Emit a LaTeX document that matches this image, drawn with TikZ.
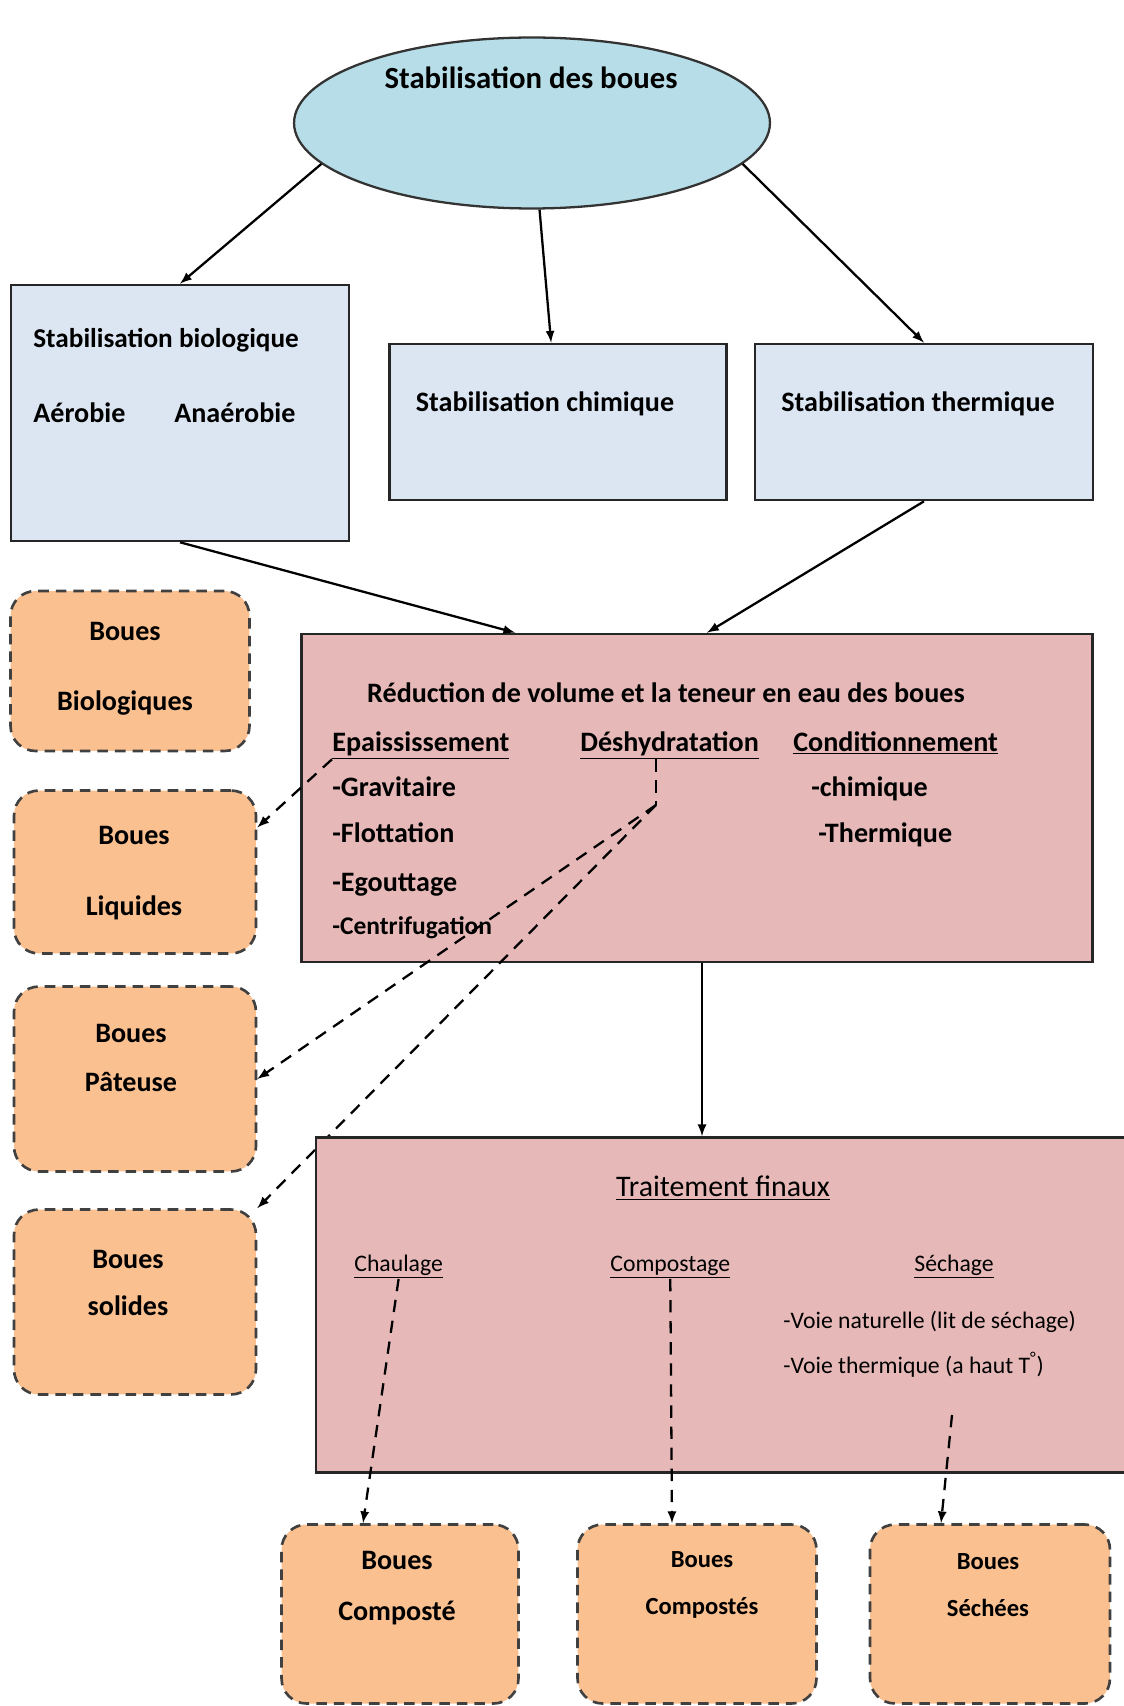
\documentclass[tikz,border=0pt]{standalone}
\usepackage{fontspec}
\setmainfont{Carlito}
\usepackage{tikz}
\usetikzlibrary{shapes.geometric, arrows}
\definecolor{ellblue}{HTML}{B7DEE8}
\definecolor{stabblue}{HTML}{DCE6F2}
\definecolor{redpink}{HTML}{E6B9B8}
\definecolor{boueorange}{HTML}{FAC090}
\tikzstyle{titre} = [ellipse, draw=black!80, line width=1.3pt, fill=ellblue, inner sep=0pt]
\tikzstyle{stabbox} = [rectangle, draw=black!85, line width=1.5pt, fill=stabblue]
\tikzstyle{redbox} = [rectangle, draw=black!85, line width=1.5pt, fill=redpink]
\tikzstyle{boue} = [rectangle, rounded corners=0.5cm, draw=black!75, dash pattern=on 6pt off 4pt, line width=1.5pt, fill=boueorange]
\tikzstyle{txt} = [inner sep=0pt, font=\fontsize{16}{19}\selectfont\bfseries]
\tikzstyle{petit} = [inner sep=0pt, font=\fontsize{13.5}{16}\selectfont]
\tikzstyle{arrow} = [line width=1.3pt,->,>=latex]
\tikzstyle{darrow} = [line width=1.3pt,dash pattern=on 7pt off 5pt,->,>=latex]

\begin{document}
\begin{tikzpicture}[x=0.02cm, y=-0.02cm]
\useasboundingbox (0,0) rectangle (1123,1706);

\node (stab) [titre, minimum width=9.52cm, minimum height=3.42cm] at (532,123) {};
\node (stabtxt) [txt, font=\fontsize{17.5}{20}\selectfont\bfseries] at (531,78) {Stabilisation des boues};

\node (bio) [stabbox, minimum width=6.76cm, minimum height=5.12cm] at (180,413) {};
\node (biotxt) [txt, anchor=base west, font=\fontsize{15.5}{19}\selectfont\bfseries] at (33,347) {Stabilisation biologique};
\node (aero) [txt, anchor=base west] at (33,422) {Aérobie};
\node (anaero) [txt, anchor=base west] at (174,422) {Anaérobie};

\node (chim) [stabbox, minimum width=6.74cm, minimum height=3.12cm] at (558,422) {};
\node (chimtxt) [txt] at (545,404) {Stabilisation chimique};
\node (therm) [stabbox, minimum width=6.76cm, minimum height=3.12cm] at (924,422) {};
\node (thermtxt) [txt] at (918,404) {Stabilisation thermique};

\draw [arrow] (stab.191) -- (bio.north);
\draw [arrow] (stab) -- (chim);
\draw [arrow] (stab.-11) -- (therm.north);

%%% reduction de volume
\node (reduc) [redbox, minimum width=15.82cm, minimum height=6.56cm] at (697,798) {};
\node (reductxt) [txt] at (666,693) {Réduction de volume et la teneur en eau des boues};
\node (epais) [txt, anchor=base west] at (332,751) {\underline{Epaississement}};
\node (deshy) [txt, anchor=base west] at (580,751) {\underline{Déshydratation}};
\node (cond) [txt, anchor=base west] at (793,751) {\underline{Conditionnement}};
\node (grav) [txt, anchor=base west] at (332,796) {-Gravitaire};
\node (flot) [txt, anchor=base west] at (332,842) {-Flottation};
\node (egout) [txt, anchor=base west] at (332,891) {-Egouttage};
\node (centri) [txt, anchor=base west, font=\fontsize{14.5}{17}\selectfont\bfseries] at (332,934) {-Centrifugation};
\node (chimq) [txt, anchor=base west] at (811,796) {-chimique};
\node (thermq) [txt, anchor=base west] at (818,842) {-Thermique};

\draw [arrow] (bio.south) -- ([xshift=4.3cm]reduc.north west);
\draw [arrow] (therm.south) -- ([xshift=0.2cm]reduc.north);

%%% boues a gauche
\node (bbio) [boue, minimum width=4.78cm, minimum height=3.2cm] at (130,671) {};
\node (bbiotxt) [txt, align=center] at (125,669) {Boues\\[21pt]Biologiques};
\node (bliq) [boue, minimum width=4.84cm, minimum height=3.26cm] at (135,872) {};
\node (bliqtxt) [txt, align=center] at (134,873) {Boues\\[21pt]Liquides};
\node (bpat) [boue, minimum width=4.84cm, minimum height=3.7cm] at (135,1079) {};
\node (bpattxt) [txt, align=center] at (131,1058) {Boues\\[9pt]Pâteuse};
\node (bsol) [boue, minimum width=4.84cm, minimum height=3.7cm] at (135,1302) {};
\node (bsoltxt) [txt, align=center] at (128,1283) {Boues\\[8pt]solides};

\coordinate (dk) at (656,805);
\draw [darrow] (epais.south west) -- (bliq.20);
\draw [line width=1.3pt, dash pattern=on 7pt off 5pt] (dk |- deshy.south) -- (dk);
\draw [darrow] (dk) -- (bpat.east);
\draw [darrow] (dk) -- (bsol.north east);

%%% traitements finaux
\node (trait) [redbox, minimum width=16.4cm, minimum height=6.7cm] at (726,1305) {};
\node (traittxt) [petit, font=\fontsize{17}{20}\selectfont] at (723,1188) {\underline{Traitement finaux}};
\node (chaul) [petit, anchor=base west] at (354,1271) {\underline{Chaulage}};
\node (compo) [petit, anchor=base west] at (610,1271) {\underline{Compostage}};
\node (sech) [petit, anchor=base west] at (914,1271) {\underline{Séchage}};
\node (voie1) [petit, anchor=base west] at (783,1328) {-Voie naturelle (lit de séchage)};
\node (voie2) [petit, anchor=base west] at (783,1373) {-Voie thermique (a haut T\textsuperscript{°})};

\draw [arrow] ([xshift=0.1cm]reduc.south) -- ([xshift=0.1cm]reduc.south |- trait.north);

\node (bcomp1) [boue, minimum width=4.74cm, minimum height=3.58cm] at (400,1614) {};
\node (bcomp1txt) [txt, align=center] at (397,1588) {Boues\\[10pt]Composté};
\node (bcomp2) [boue, minimum width=4.78cm, minimum height=3.58cm] at (697,1614) {};
\node (bcomp2txt) [txt, font=\fontsize{14}{17}\selectfont\bfseries, align=center] at (702,1585) {Boues\\[10pt]Compostés};
\node (bsech) [boue, minimum width=4.8cm, minimum height=3.58cm] at (990,1614) {};
\node (bsechtxt) [txt, font=\fontsize{14}{17}\selectfont\bfseries, align=center] at (988,1585) {Boues\\[10pt]Séchées};

\coordinate (sk) at (952,1415);
\draw [darrow] (chaul.south) -- ([xshift=-0.74cm]bcomp1.north);
\draw [darrow] (compo.south) -- ([xshift=-0.5cm]bcomp2.north);
\draw [darrow] (sk) -- ([xshift=-0.98cm]bsech.north);

\end{tikzpicture}
\end{document}
